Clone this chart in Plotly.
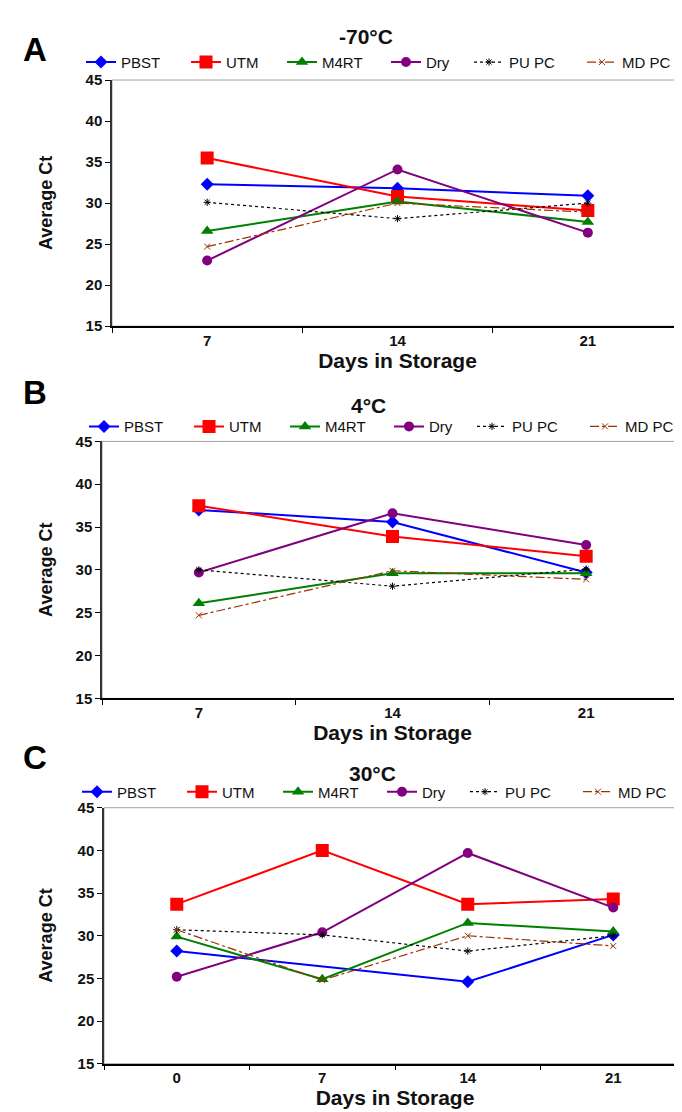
import plotly.graph_objects as go

W, H = 682, 1112

series = ["PBST", "UTM", "M4RT", "Dry", "PU PC", "MD PC"]

days_A = ["7", "14", "21"]
A_PBST = [32.3, 31.8, 30.9]
A_UTM = [35.5, 30.8, 29.1]
A_M4RT = [26.6, 30.2, 27.7]
A_Dry = [23.0, 34.1, 26.4]
A_PUPC = [30.1, 28.1, 30.0]
A_MDPC = [24.7, 30.0, 28.9]

days_B = ["7", "14", "21"]
B_PBST = [37.0, 35.6, 29.7]
B_UTM = [37.5, 33.9, 31.6]
B_M4RT = [26.1, 29.6, 29.6]
B_Dry = [29.7, 36.6, 32.9]
B_PUPC = [30.0, 28.1, 30.1]
B_MDPC = [24.7, 29.9, 28.9]

days_C = ["0", "7", "14", "21"]
C_PBST = [28.2, None, 24.6, 30.1]
C_UTM = [33.7, 40.0, 33.7, 34.3]
C_M4RT = [29.9, 24.9, 31.5, 30.5]
C_Dry = [25.2, 30.4, 39.7, 33.3]
C_PUPC = [30.7, 30.1, 28.2, 30.0]
C_MDPC = [30.7, 24.8, 30.0, 28.8]

panel_titles = ["-70°C", "4°C", "30°C"]
panel_letters = ["A", "B", "C"]
y_ticks = [15, 20, 25, 30, 35, 40, 45]

styles = {
    "PBST": dict(color="#0000FF", dash="solid", width=2, symbol="diamond", size=10, lw=0, lwid=60),
    "UTM": dict(color="#FF0000", dash="solid", width=2, symbol="square", size=13, lw=0, lwid=51),
    "M4RT": dict(color="#008000", dash="solid", width=2, symbol="triangle-up", size=11, lw=0, lwid=59),
    "Dry": dict(color="#800080", dash="solid", width=2, symbol="circle", size=10, lw=0, lwid=38),
    "PU PC": dict(color="#000000", dash="dot", width=1.2, symbol="asterisk-open", size=6, lw=1, lwid=68),
    "MD PC": dict(color="#993300", dash="dashdot", width=1.2, symbol="x-thin-open", size=6, lw=1, lwid=50),
}

panels = [
    (days_A, [A_PBST, A_UTM, A_M4RT, A_Dry, A_PUPC, A_MDPC]),
    (days_B, [B_PBST, B_UTM, B_M4RT, B_Dry, B_PUPC, B_MDPC]),
    (days_C, [C_PBST, C_UTM, C_M4RT, C_Dry, C_PUPC, C_MDPC]),
]

# pixel boxes (left, right, top, bottom)
boxes = [(104, 675, 64, 314), (94, 675, 431, 692), (96, 678, 803, 1063)]
legend_pos = [(73, 46), (76, 416), (69, 787)]
title_pos = [(358, 20), (360, 395), (364, 768)]
letter_pos = [(27, 33), (27, 381), (27, 752)]

def px(x):
    return x / W

def py(y):
    return 1 - y / H

fig = go.Figure()
FONT = "Liberation Sans, Arial, sans-serif"

for i, (cats, vals) in enumerate(panels):
    sfx = "" if i == 0 else str(i + 1)
    leg = "legend" if i == 0 else "legend" + str(i + 1)
    for name, v in zip(series, vals):
        s = styles[name]
        fig.add_trace(go.Scatter(
            x=cats, y=v, name=name, mode="lines+markers",
            xaxis="x" + sfx, yaxis="y" + sfx, legend=leg,
            connectgaps=True, legendwidth=s["lwid"],
            line=dict(color=s["color"], dash=s["dash"], width=s["width"]),
            marker=dict(symbol=s["symbol"], size=s["size"], color=s["color"],
                        line=dict(color=s["color"], width=s["lw"])),
        ))
    l, r, t, b = boxes[i]
    fig.layout["xaxis" + sfx] = dict(
        domain=[px(l), px(r)], anchor="y" + sfx, type="category",
        range=[-0.5, len(cats) - 0.5], tickson="boundaries",
        ticks="outside", ticklen=5, tickcolor="#000", tickwidth=1,
        showline=True, linecolor="#000", linewidth=1.5, showgrid=False,
        zeroline=False, fixedrange=True,
        tickfont=dict(family=FONT, size=15, color="#111", weight="bold"),
        title=dict(text="Days in Storage", standoff=3,
                   font=dict(family=FONT, size=21, color="#111", weight="bold")),
    )
    fig.layout["yaxis" + sfx] = dict(
        domain=[py(b), py(t)], anchor="x" + sfx, range=[15, 45],
        tickvals=y_ticks, ticks="outside", ticklen=5, tickcolor="#000",
        showline=True, linecolor="#333", linewidth=1.5, showgrid=False,
        zeroline=False, fixedrange=True,
        tickfont=dict(family=FONT, size=15, color="#111", weight="bold"),
    )
    # light gray frame (top/right)
    fig.add_shape(type="rect", xref="x" + sfx + " domain", yref="y" + sfx + " domain",
                  x0=0, x1=1, y0=0, y1=1, line=dict(color="#A0A0A0", width=1),
                  layer="below")
    lx, ly = legend_pos[i]
    fig.layout[leg] = dict(
        orientation="h", x=px(lx), y=py(ly), xanchor="left", yanchor="middle",
        font=dict(family=FONT, size=15, color="#111"), bgcolor="rgba(0,0,0,0)",
        itemwidth=30, tracegroupgap=0,
    )
    tx, ty = title_pos[i]
    fig.add_annotation(text=panel_titles[i], x=px(tx), y=py(ty), xref="paper", yref="paper",
                       showarrow=False, xanchor="center", yanchor="middle",
                       font=dict(family=FONT, size=21, color="#111", weight="bold"))
    ax, ay = letter_pos[i]
    fig.add_annotation(text=panel_letters[i], x=px(ax), y=py(ay), xref="paper", yref="paper",
                       showarrow=False, xanchor="center", yanchor="middle",
                       font=dict(family="Liberation Sans Narrow, Arial Narrow, sans-serif",
                                 size=33, color="#000", weight="bold"))
    fig.add_annotation(text="Average Ct", x=px(38), y=py((t + b) / 2), xref="paper", yref="paper",
                       showarrow=False, xanchor="center", yanchor="middle", textangle=-90,
                       font=dict(family=FONT, size=18, color="#111", weight="bold"))

fig.update_layout(
    width=W, height=H, margin=dict(l=0, r=0, t=0, b=0),
    paper_bgcolor="white", plot_bgcolor="white", showlegend=True,
)

fig.write_html("out.html")
